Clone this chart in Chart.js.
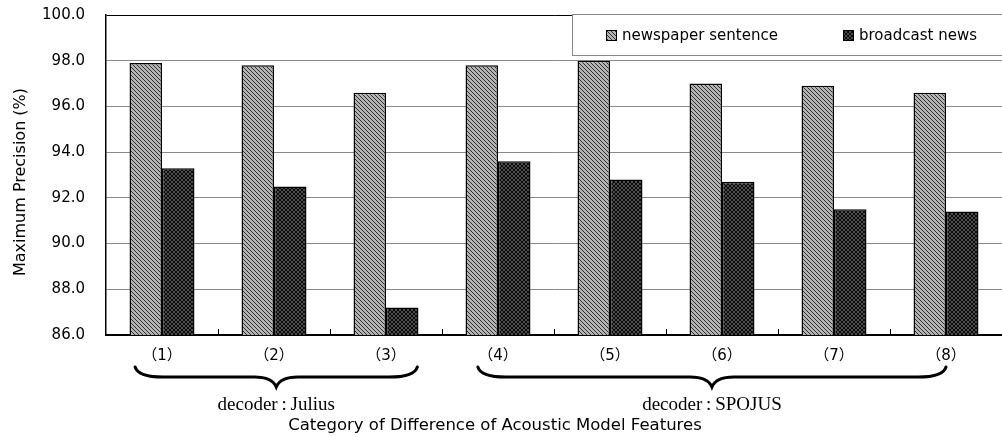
<!DOCTYPE html>
<html>
<head>
<meta charset="utf-8">
<script src="https://cdn.jsdelivr.net/npm/chart.js@4"></script>
<style>
  html, body { margin: 0; background: #fff; }
  #wrap { width: 1002px; height: 437px; }
</style>
</head>
<body>
<div id="wrap"><canvas id="chart"></canvas></div>
<script>
const categories = ['（1）', '（2）', '（3）', '（4）', '（5）', '（6）', '（7）', '（8）'];
const newspaperValues = [97.9, 97.8, 96.6, 97.8, 98.0, 97.0, 96.9, 96.6];
const broadcastValues = [93.3, 92.5, 87.2, 93.6, 92.8, 92.7, 91.5, 91.4];
const seriesNames = ['newspaper sentence', 'broadcast news'];
const groupLabels = ['decoder\u2009:\u2009Julius', 'decoder\u2009:\u2009SPOJUS'];
const groupRanges = [[0, 2], [3, 7]];
const yTitle = 'Maximum Precision (%)';
const xTitle = 'Category of Difference of Acoustic Model Features';

// hatch fills like the printed figure
function makePattern(bg, fg, cross) {
    const p = document.createElement('canvas');
    p.width = p.height = 4;
    const g = p.getContext('2d');
    g.fillStyle = bg;
    g.fillRect(0, 0, 4, 4);
    g.fillStyle = fg;
    for (let i = 0; i < 4; i++) {
        g.fillRect(i, i, 1, 1);
        if (cross) g.fillRect(3 - i, i, 1, 1);
    }
    return g.createPattern(p, 'repeat');
}
const lightFill = makePattern('#b4b4b4', '#303030', false);
const darkFill = makePattern('#4c4c4c', '#0c0c0c', true);

function drawBrace(ctx, x0, x1, yTop, yMid, yTip) {
    const m = (x0 + x1) / 2;
    ctx.beginPath();
    ctx.moveTo(x0, yTop);
    ctx.quadraticCurveTo(x0 + 3, yMid, x0 + 28, yMid);
    ctx.lineTo(m - 22, yMid);
    ctx.quadraticCurveTo(m - 4, yMid, m, yTip);
    ctx.quadraticCurveTo(m + 4, yMid, m + 22, yMid);
    ctx.lineTo(x1 - 28, yMid);
    ctx.quadraticCurveTo(x1 - 3, yMid, x1, yTop);
    ctx.stroke();
}

const decor = {
    id: 'decor',
    // pin the plot top to the original's 100.0 line
    afterLayout(chart) {
        const top = 15;
        const a = chart.chartArea, y = chart.scales.y;
        a.top = top;
        a.height = a.bottom - top;
        y.top = top;
        y.height = y.bottom - top;
        y.configure();
    },
    afterDraw(chart) {
        const { ctx, chartArea: a, scales: { x } } = chart;
        ctx.save();

        // small inner ticks between categories
        ctx.strokeStyle = '#000';
        ctx.lineWidth = 1;
        const step = (a.right - a.left) / categories.length;
        for (let i = 1; i < categories.length; i++) {
            const px = Math.round(a.left + step * i) + 0.5;
            ctx.beginPath();
            ctx.moveTo(px, a.bottom);
            ctx.lineTo(px, a.bottom - 6);
            ctx.stroke();
        }

        // legend box in the top-right corner
        const lx = 572, ly = 14, lh = 41;
        ctx.fillStyle = '#fff';
        ctx.fillRect(lx, ly, a.right - lx, lh);
        ctx.strokeStyle = '#888';
        ctx.strokeRect(lx + 0.5, ly + 0.5, a.right - lx, lh);
        const itemX = [606, 843];
        ctx.font = '15px "DejaVu Sans"';
        ctx.textBaseline = 'middle';
        chart.data.datasets.forEach((ds, i) => {
            ctx.fillStyle = ds.backgroundColor;
            ctx.fillRect(itemX[i], 30, 11, 11);
            ctx.strokeStyle = '#000';
            ctx.strokeRect(itemX[i] + 0.5, 30.5, 10, 10);
            ctx.fillStyle = '#000';
            ctx.fillText(ds.label, itemX[i] + 16, 36);
        });

        // decoder braces and labels
        ctx.lineWidth = 3;
        ctx.lineCap = 'round';
        const ext = [[-0.24, 0.28], [-0.18, 0.0]];
        groupRanges.forEach((r, i) => {
            const x0 = x.getPixelForValue(r[0]) + ext[i][0] * step;
            const x1 = x.getPixelForValue(r[1]) + ext[i][1] * step;
            drawBrace(ctx, x0, x1, 367, 377, 387);
            ctx.font = '19px "Liberation Serif"';
            ctx.textAlign = 'center';
            ctx.fillStyle = '#000';
            ctx.fillText(groupLabels[i], (x0 + x1) / 2, 405);
        });

        // axis titles, placed where the original has them
        ctx.font = '16.5px "DejaVu Sans"';
        ctx.textAlign = 'center';
        ctx.fillText(xTitle, 495, 426);
        ctx.font = '16px "DejaVu Sans"';
        ctx.translate(21, 182);
        ctx.rotate(-Math.PI / 2);
        ctx.fillText(yTitle, 0, 0);
        ctx.restore();
    }
};

new Chart(document.getElementById('chart'), {
    type: 'bar',
    data: {
        labels: categories,
        datasets: [
            { label: seriesNames[0], data: newspaperValues, backgroundColor: lightFill,
              borderColor: '#000', borderWidth: 1.5 },
            { label: seriesNames[1], data: broadcastValues, backgroundColor: darkFill,
              borderColor: '#000', borderWidth: 1.5 }
        ]
    },
    options: {
        responsive: true,
        maintainAspectRatio: false,
        animation: false,
        layout: { padding: { top: 15, right: 0, bottom: 0, left: 0 } },
        datasets: { bar: { categoryPercentage: 0.58, barPercentage: 1.0 } },
        plugins: { legend: { display: false }, tooltip: { enabled: false } },
        scales: {
            y: {
                min: 86, max: 100,
                afterFit: s => { s.width = 106; },
                ticks: { stepSize: 2, padding: 21, color: '#000',
                         font: { size: 15, family: '"DejaVu Sans"' },
                         callback: v => v.toFixed(1) },
                grid: { drawTicks: false, lineWidth: 1,
                        color: c => c.tick.value === 100 ? '#000' : '#8a8a8a' },
                border: { color: '#000', width: 1.5 }
            },
            x: {
                afterFit: s => { s.height = 102; },
                ticks: { padding: 12, color: '#000',
                         font: { size: 15, family: '"DejaVu Sans", "Noto Sans CJK JP"' } },
                grid: { display: false, drawTicks: false },
                border: { color: '#000', width: 2 }
            }
        }
    },
    plugins: [decor]
});
</script>
</body>
</html>
